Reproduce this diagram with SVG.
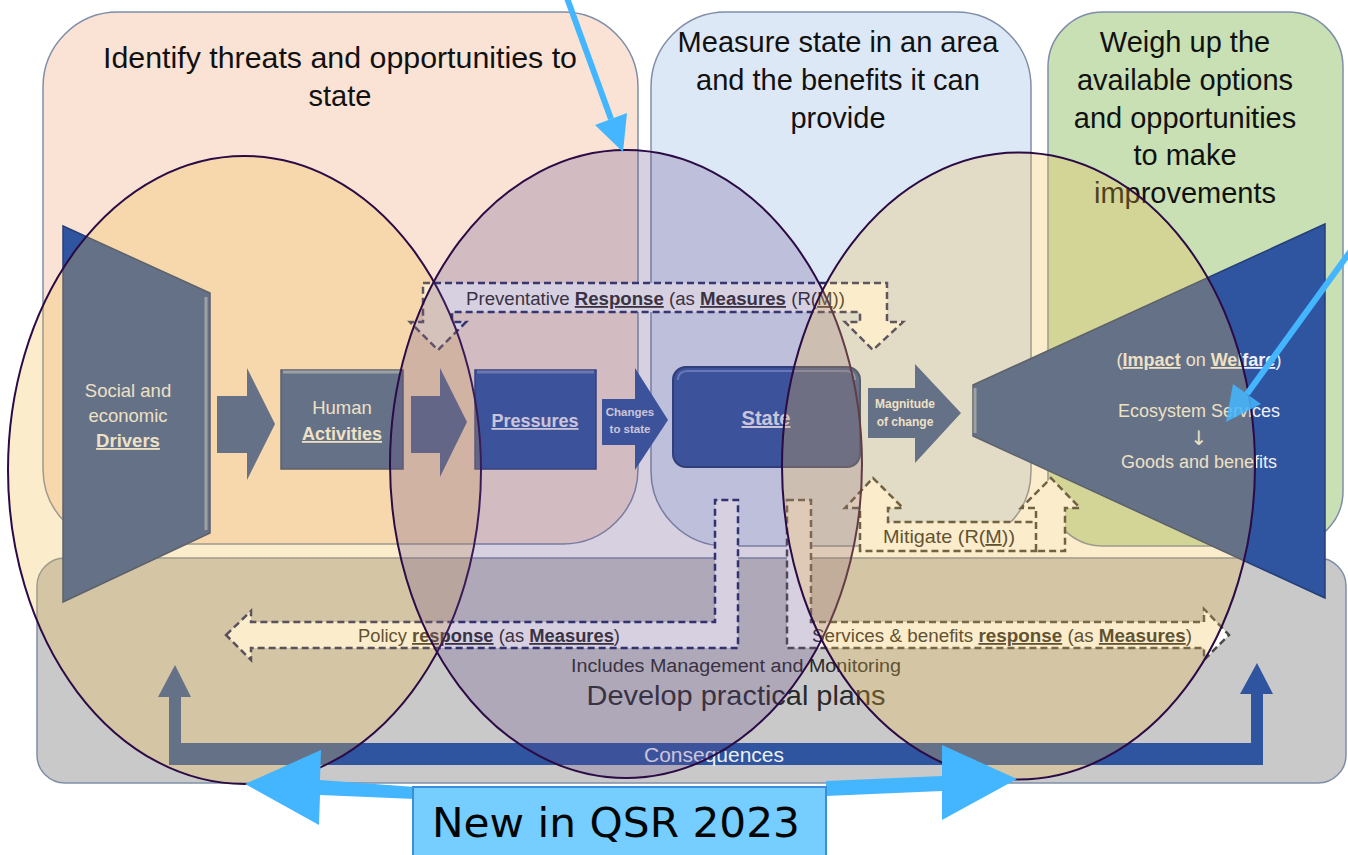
<svg xmlns="http://www.w3.org/2000/svg" width="1348" height="855" viewBox="0 0 1348 855">
<style>
.hdr{font-family:"Liberation Sans",Arial,sans-serif;font-size:29px;fill:#111111;text-anchor:middle}
.wt{font-family:"Liberation Sans",Arial,sans-serif;fill:#EEF0F4;text-anchor:middle}
.lbl{font-family:"Liberation Sans",Arial,sans-serif;font-size:18px;fill:#2A2A2A}
.b{font-weight:bold}
.u{text-decoration:underline}
.panel{stroke:#7F8EA8;stroke-width:1.5}
.blk{fill:#2F55A0}
.bev{fill:#2F55A0;stroke:#243F78;stroke-width:1.5}
.dash{fill:#FFFFFF;stroke-width:2.5;stroke-dasharray:7 4;stroke-linejoin:miter}
.ell{stroke:#2B0B45;stroke-width:2}
.callout{fill:#44B6FF}
</style>
<rect width="1348" height="855" fill="#FFFFFF"/>

<g id="panels">
  <rect id="panel-identify" class="panel" x="43" y="12" width="595" height="532" rx="75" ry="75" fill="#FAE3D5"/>
  <rect id="panel-measure" class="panel" x="651" y="12" width="380" height="534" rx="75" ry="75" fill="#DDE8F6"/>
  <rect id="panel-weigh" class="panel" x="1048" y="12" width="295" height="534" rx="55" ry="55" fill="#C8E0B4"/>
  <rect id="panel-plans" class="panel" x="37" y="558" width="1309" height="225" rx="28" ry="28" fill="#C9C9C9"/>
</g>

<g id="panel-texts">
  <text class="hdr" x="340" y="68" textLength="474" lengthAdjust="spacingAndGlyphs">Identify threats and opportunities to</text>
  <text class="hdr" x="340" y="106">state</text>
  <text class="hdr" x="838" y="52">Measure state in an area</text>
  <text class="hdr" x="838" y="90">and the benefits it can</text>
  <text class="hdr" x="838" y="128">provide</text>
  <text class="hdr" x="1185" y="52">Weigh up the</text>
  <text class="hdr" x="1185" y="90">available options</text>
  <text class="hdr" x="1185" y="128">and opportunities</text>
  <text class="hdr" x="1185" y="165">to make</text>
  <text class="hdr" x="1185" y="203">improvements</text>
  <text class="lbl" x="736" y="672" text-anchor="middle" font-size="19" textLength="330" lengthAdjust="spacingAndGlyphs" fill="#333333">Includes Management and Monitoring</text>
  <text class="lbl" x="736" y="705" text-anchor="middle" style="font-size:28px" textLength="299" lengthAdjust="spacingAndGlyphs" fill="#1A1A1A">Develop practical plans</text>
</g>

<g id="connectors">
  <polygon id="arrow-drivers-activities" class="blk" points="217,396 247,396 247,368 275,424 247,480 247,453 217,453"/>
  <polygon id="arrow-activities-pressures" class="blk" points="411,396 440,396 440,368 467,422 440,477 440,453 411,453"/>
  <polygon id="arrow-changes" class="blk" points="602,399 635,399 635,368 668,420 635,470 635,445 602,445"/>
  <polygon id="arrow-magnitude" class="blk" points="868,388 915,388 915,364 961,413 915,463 915,438 868,438"/>
  <path id="arrow-consequences" class="blk" d="M158,697 L175,665 L191,697 H181 V743 H1251 V694 H1240 L1257,663 L1273,694 H1263 V765 H169 V697 Z"/>
  <path id="dash-preventative" class="dash" stroke="#27306A" d="M423,283 H887 V322 H903 L873,350 L845,322 H860 V312 H452 V322 H466 L438,350 L410,322 H423 Z"/>
  <path id="dash-mitigate-left" class="dash" stroke="#404040" d="M860,551 V508 H845 L873,478 L903,508 H888 V522 H1039 V551 Z"/>
  <path id="dash-mitigate-right" class="dash" stroke="#404040" d="M1036,551 V508 H1021 L1051,478 L1080,508 H1065 V551 Z"/>
  <path id="dash-policy" class="dash" stroke="#1F2A66" d="M226,635 L251,611 V622 H715 V500 H738 V648 H251 V660 Z"/>
  <path id="dash-services" class="dash" stroke="#4A4A4A" d="M787,500 H811 V622 H1204 V609 L1229,635 L1204,660 V648 H787 Z"/>
  <text class="lbl" x="466" y="305" textLength="379" lengthAdjust="spacingAndGlyphs">Preventative <tspan class="b u">Response</tspan> (as <tspan class="b u">Measures</tspan> (R(<tspan class="u">M</tspan>))</text>
  <text class="lbl" x="883" y="543" style="font-size:18.5px" textLength="132" lengthAdjust="spacingAndGlyphs">Mitigate (R(<tspan class="u">M</tspan>))</text>
  <text class="lbl" x="358" y="642" textLength="262" lengthAdjust="spacingAndGlyphs">Policy <tspan class="b u">response</tspan> (as <tspan class="b u">Measures</tspan>)</text>
  <text class="lbl" x="812" y="642" textLength="380" lengthAdjust="spacingAndGlyphs">Services &amp; benefits <tspan class="b u">response</tspan> (as <tspan class="b u">Measures</tspan>)</text>
  <text class="wt" x="714" y="762" style="font-size:20px" textLength="140" lengthAdjust="spacingAndGlyphs" fill="#DDE2EE">Consequences</text>
  <text class="wt b" x="630" y="416" style="font-size:11.5px">Changes</text>
  <text class="wt b" x="630" y="433" style="font-size:11.5px">to state</text>
  <text class="wt b" x="905" y="408" style="font-size:12px">Magnitude</text>
  <text class="wt b" x="905" y="426" style="font-size:12px">of change</text>
</g>

<g id="node-drivers">
  <polygon class="bev" points="63,226 210,293 210,533 63,602"/>
  <line x1="206" y1="297" x2="206" y2="530" stroke="#7F98C8" stroke-width="3"/>
  <text class="wt" x="128" y="397" style="font-size:18.5px">Social and</text>
  <text class="wt" x="128" y="422" style="font-size:18.5px">economic</text>
  <text class="wt b u" x="128" y="447" style="font-size:18.5px">Drivers</text>
</g>

<g id="node-activities">
  <rect class="bev" x="281" y="370" width="122" height="99"/>
  <line x1="283" y1="372" x2="401" y2="372" stroke="#7F98C8" stroke-width="3"/>
  <text class="wt" x="342" y="414" style="font-size:18.5px">Human</text>
  <text class="wt b u" x="342" y="440" style="font-size:18px">Activities</text>
</g>

<g id="node-pressures">
  <rect class="bev" x="475" y="370" width="121" height="99"/>
  <line x1="477" y1="372" x2="594" y2="372" stroke="#6F88C0" stroke-width="3"/>
  <text class="wt b u" x="535" y="427" style="font-size:18px">Pressures</text>
</g>

<g id="node-state">
  <rect x="673" y="367" width="187" height="100" rx="13" ry="13" fill="#2F55A0" stroke="#1E3A73" stroke-width="2"/>
  <path d="M678,380 Q678,371 688,371 H845 Q855,371 855,380" fill="none" stroke="#6A88C8" stroke-width="2"/>
  <text class="wt b u" x="766" y="425" style="font-size:20px">State</text>
</g>

<g id="node-impact">
  <polygon class="bev" points="973,385 1325,224 1325,598 973,436" stroke="#4F6DA8"/>
  <line x1="975" y1="388" x2="975" y2="433" stroke="#7F98C8" stroke-width="3"/>
  <text class="wt" x="1199" y="366" style="font-size:18px">(<tspan class="b u">Impact</tspan> on <tspan class="b u">Welfare</tspan>)</text>
  <text class="wt" x="1199" y="417" style="font-size:18px">Ecosystem Services</text>
  <text class="wt" x="1199" y="445" style="font-size:20px;font-family:'DejaVu Sans','Liberation Sans',sans-serif">↓</text>
  <text class="wt" x="1199" y="468" style="font-size:18px">Goods and benefits</text>
</g>

<g id="ellipses">
  <ellipse id="ellipse-left" class="ell" cx="244.5" cy="470" rx="236.5" ry="314" fill="#F0BA48" fill-opacity="0.28"/>
  <ellipse id="ellipse-middle" class="ell" cx="626" cy="464" rx="236" ry="314" fill="#634B8C" fill-opacity="0.26"/>
  <ellipse id="ellipse-right" class="ell" cx="1018.5" cy="466" rx="236.5" ry="313.5" fill="#F0BA48" fill-opacity="0.28"/>
</g>

<g id="callout">
  <line x1="567" y1="-2" x2="611" y2="119" stroke="#44B6FF" stroke-width="6"/>
  <polygon class="callout" points="595,125 627,113 623,152"/>
  <line x1="1352" y1="249" x2="1247" y2="394" stroke="#44B6FF" stroke-width="6"/>
  <polygon class="callout" points="1261,404 1233,384 1226,422" fill-opacity="0.85"/>
  <polygon class="callout" points="415,787 320,780 321,750 245,784 319,825 320,795 415,799"/>
  <polygon class="callout" points="826,781 942,776 942,745 1017,779 942,820 942,791 826,796"/>
  <g id="node-new">
    <rect x="413" y="787" width="413" height="70" fill="#76CDFF" stroke="#3C8ED8" stroke-width="2"/>
    <text x="616" y="837" text-anchor="middle" font-family="'DejaVu Sans','Liberation Sans',sans-serif" font-size="40" textLength="368" lengthAdjust="spacingAndGlyphs" fill="#050505">New in QSR 2023</text>
  </g>
</g>
</svg>
